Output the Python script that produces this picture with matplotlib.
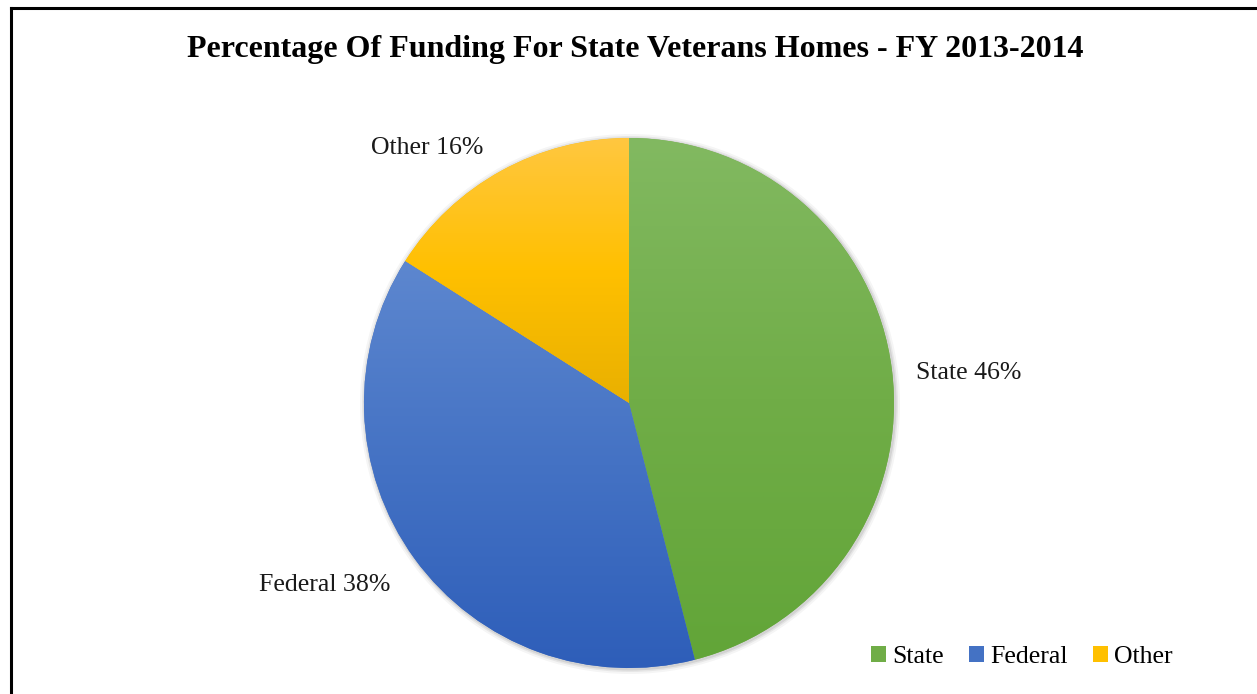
import numpy as np
import matplotlib.pyplot as plt
from matplotlib.colors import LinearSegmentedColormap
from matplotlib.lines import Line2D
from matplotlib.patches import Patch
from matplotlib.transforms import offset_copy

plt.rcParams['font.family'] = ['Liberation Serif', 'DejaVu Serif']

title = "Percentage Of Funding For State Veterans Homes - FY 2013-2014"
names = ["State", "Federal", "Other"]
shares = [46, 38, 16]
# top / middle / bottom stops of the vertical gradient for each slice
top_colors = ["#82b961", "#5d87cf", "#ffc740"]
base_colors = ["#70ad47", "#4472c4", "#ffc000"]
bottom_colors = ["#62a538", "#2e5eb9", "#e9b000"]

W, H = 1257, 694
fig = plt.figure(figsize=(W / 100, H / 100), dpi=100)
ax = fig.add_axes([0, 0, 1, 1])

# outer frame (only left and top edges fall inside the image)
fig.add_artist(Line2D([11 / W, 11 / W], [0, 1 - 8 / H], transform=fig.transFigure,
                      color='black', lw=2.2, solid_capstyle='projecting'))
fig.add_artist(Line2D([11 / W, 1], [1 - 8 / H, 1 - 8 / H], transform=fig.transFigure,
                      color='black', lw=2.2, solid_capstyle='projecting'))

center = (629, H - 403)
radius = 265

# soft shadow behind the pie
for k, a in [(5, 0.04), (3, 0.06), (1.5, 0.08)]:
    ax.add_patch(plt.Circle((center[0] + 1, center[1] - 1), radius + k,
                            color='black', alpha=a, lw=0, zorder=0))

labels = ["%s %d%%" % (n, v) for n, v in zip(names, shares)]
wedges, texts = ax.pie(shares, labels=labels, startangle=90, counterclock=False,
                       center=center, radius=radius, labeldistance=1.1,
                       colors=base_colors, frame=True,
                       wedgeprops=dict(linewidth=0),
                       textprops=dict(fontsize=18.6, color='#1a1a1a'))

# pie picks alignment from absolute x, so redo it relative to the centre,
# plus a small nudge (in points) per label
nudges = [(-1.5, -4.5), (-2, -7.5), (-4, 0)]
for w, t, (dx, dy) in zip(wedges, texts, nudges):
    mid = np.deg2rad((w.theta1 + w.theta2) / 2)
    t.set_horizontalalignment('left' if np.cos(mid) > 0 else 'right')
    t.set_verticalalignment('center')
    t.set_transform(offset_copy(ax.transData, fig=fig, x=dx, y=dy, units='points'))

grad = np.linspace(0, 1, 256).reshape(-1, 1)
for w, c0, cm, c1 in zip(wedges, top_colors, base_colors, bottom_colors):
    bb = w.get_path().get_extents(w.get_patch_transform())
    cmap = LinearSegmentedColormap.from_list('g', [c1, cm, c0])
    im = ax.imshow(grad, cmap=cmap, origin='lower', aspect='auto',
                   extent=[bb.x0, bb.x1, bb.y0, bb.y1], zorder=2,
                   interpolation='bilinear')
    im.set_clip_path(w)
    w.set_zorder(1)

ax.set_xlim(0, W)
ax.set_ylim(0, H)
ax.set_aspect('equal')
ax.axis('off')

fig.text(0.5 + 7 / W, 1 - 50 / H, title, ha='center', va='center',
         fontsize=23, fontweight='bold')

handles = [Patch(facecolor=c, edgecolor='none') for c in base_colors]
fig.legend(handles, names, loc='center', bbox_to_anchor=(1022 / W, 1 - 657 / H),
           ncol=3, frameon=False, fontsize=18.6, handlelength=0.55, handleheight=0.55,
           handletextpad=0.25, columnspacing=1.0, borderpad=0)

fig.savefig('out.png', dpi=100)
